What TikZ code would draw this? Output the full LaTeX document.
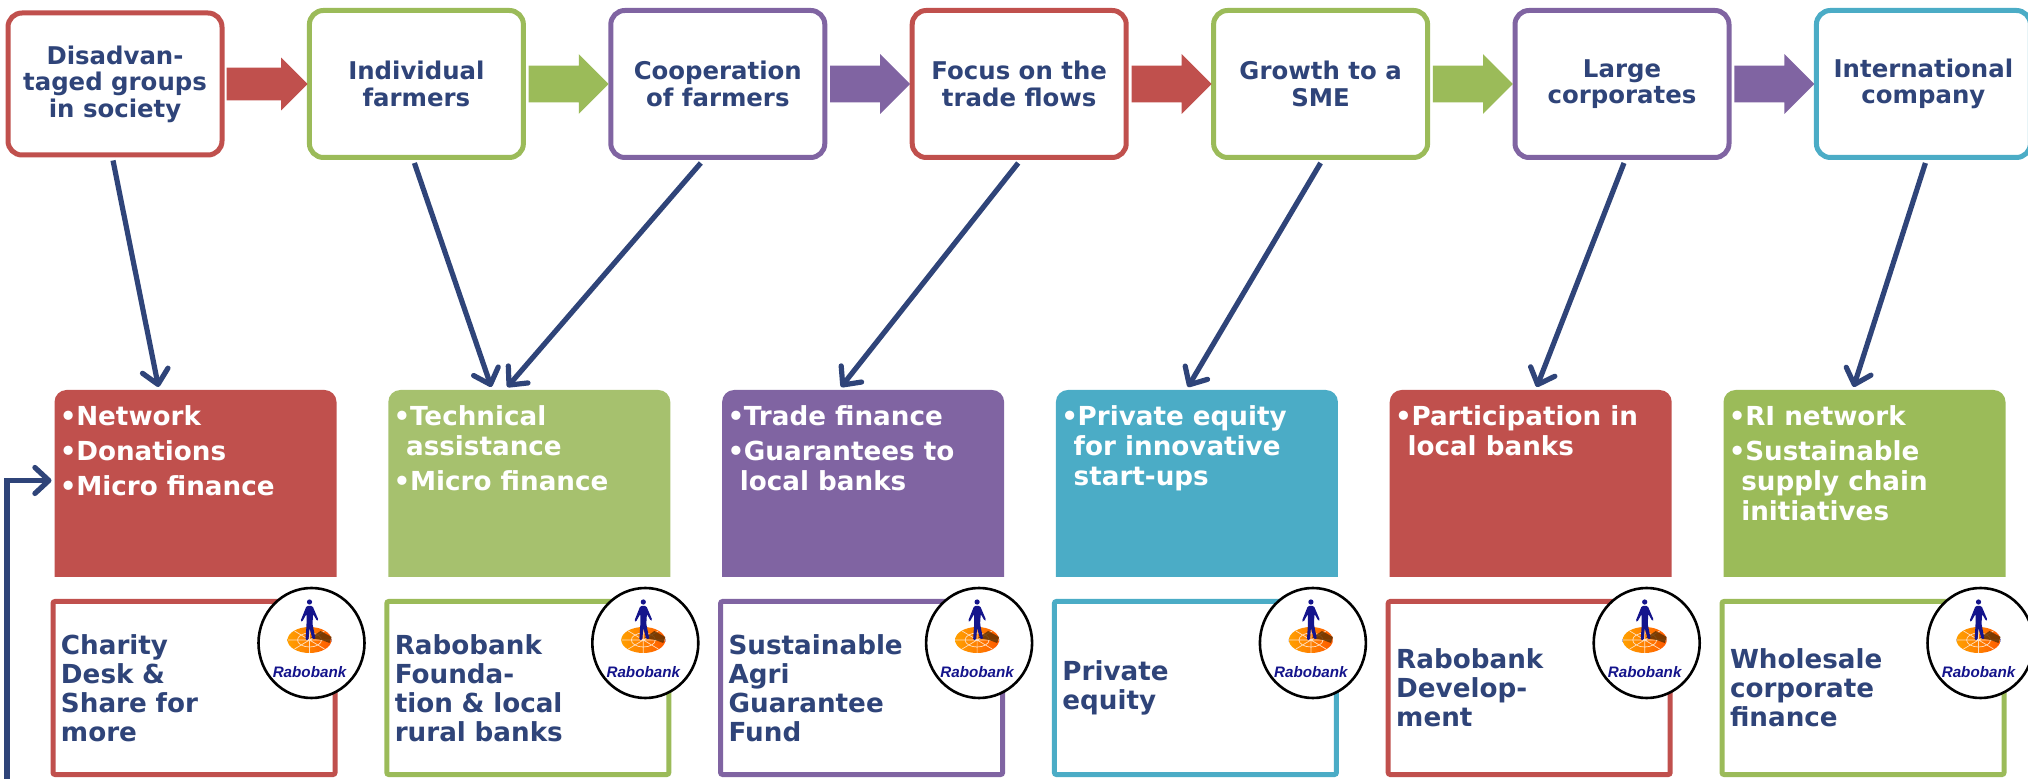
\documentclass[tikz,border=0pt]{standalone}
\usepackage{fontspec}
\setmainfont{DejaVu Sans}
\newfontfamily\logofont{Liberation Sans}
\usetikzlibrary{positioning,arrows.meta,shapes.arrows,shapes.geometric}

\definecolor{rabored}{HTML}{C0504D}
\definecolor{rabogreen}{HTML}{9BBB59}
\definecolor{rabolight}{HTML}{A6C16E}
\definecolor{rabopurple}{HTML}{8064A2}
\definecolor{raboteal}{HTML}{4BACC6}
\definecolor{rabonavy}{HTML}{2F4479}
\definecolor{logoblue}{HTML}{14148C}

\newcommand{\itm}{\makebox[8.2pt][l]{•}}
\newcommand{\cnt}{\hspace*{6.2pt}}

\tikzset{
    stagebox/.style={rectangle, draw=#1, line width=2.5pt, rounded corners=7pt, fill=white,
        minimum width=107pt, minimum height=73.5pt, inner sep=1pt, align=center, text=rabonavy,
        font=\bfseries\fontsize{12.2}{13.3}\selectfont},
    stagearrow/.style={single arrow, fill=#1, draw=none, inner xsep=0pt, inner ysep=9pt, outer sep=0pt,
        minimum height=40pt, single arrow head extend=5.75pt,
        single arrow tip angle=90, single arrow head indent=0pt},
    offerbox/.style={rectangle, minimum width=141pt, minimum height=93.5pt, inner sep=0pt, outer sep=0pt,
        path picture={\fill[#1] (path picture bounding box.south west) [rounded corners=6pt]
            -- (path picture bounding box.north west) -- (path picture bounding box.north east)
            [sharp corners] -- (path picture bounding box.south east) -- cycle;}},
    offertext/.style={inner sep=0pt, align=left, text=white,
        font=\bfseries\fontsize{13.1}{15}\selectfont},
    deskbox/.style={rectangle, draw=#1, line width=2.5pt, rounded corners=1pt, fill=white,
        minimum width=141pt, minimum height=86.5pt, text width=133pt, inner sep=4pt, align=left,
        text=rabonavy, font=\bfseries\fontsize{13.1}{14.5}\selectfont},
    logoring/.style={ellipse, draw=black, line width=1.3pt, fill=white, inner sep=0pt,
        minimum width=53pt, minimum height=55pt},
    conn/.style={draw=rabonavy, line width=2.6pt,
        -{Straight Barb[round, length=7pt, width=13pt, line width=2.6pt]}},
    rabologo/.pic={
        \fill[logoblue] (-24,-1) arc[start angle=180, end angle=360, x radius=22, y radius=14] -- (20,-4)
            -- (-24,-4) -- cycle;
        \shade[left color=orange!75!yellow, right color=orange!70!red, middle color=orange]
            (-2,-3) ellipse [x radius=22, y radius=13];
        \draw[white!75!orange, line width=.35pt] (-2,-3) ellipse [x radius=12, y radius=7]
            (-24,-3) -- (20,-3) (-2,-16) -- (-2,10) (-17,-12) -- (13,6) (13,-12) -- (-17,6);
        \fill[black!60!orange, opacity=.85] (-1,-5) -- (9,-12) -- (20,-6) -- (18,0) -- (10,-3) -- cycle;
        \fill[logoblue] (-2,-41) circle [radius=2.6];
        \fill[logoblue, rounded corners=.6pt] (-5,-37) -- (1,-37) -- (7,-23) -- (5.6,-22) -- (1.6,-29)
            -- (1,-19) -- (4,-4) -- (1,-4) -- (-2,-15) -- (-3,-3) -- (-6,-3) -- (-5,-18) -- (-5,-29)
            -- (-9.5,-21) -- (-11,-22) -- cycle;
        \node[inner sep=0pt, text=logoblue] at (-2,29)
            {\logofont\bfseries\itshape\fontsize{7.6}{9}\selectfont Rabobank};
    }
}

\begin{document}
\begin{tikzpicture}[x=0.5pt, y=-0.5pt]
    \useasboundingbox (0,0) rectangle (2028,779);

    % stages
    \node[stagebox=rabored, minimum height=71pt] (topa) at (115,84) {Disadvan-\\taged groups\\in society};
    \node[stagebox=rabogreen, right=41.2pt of topa] (topb) {Individual\\farmers};
    \node[stagebox=rabopurple, right=41.2pt of topb] (topc) {Cooperation\\of farmers};
    \node[stagebox=rabored, right=41.2pt of topc] (topd) {Focus on the\\trade flows};
    \node[stagebox=rabogreen, right=41.2pt of topd] (tope) {Growth to a\\SME};
    \node[stagebox=rabopurple, right=41.2pt of tope] (topf) {Large\\corporates};
    \node[stagebox=raboteal, right=41.2pt of topf] (topg) {International\\company};

    \node[stagearrow=rabored, right=1pt of topa, minimum height=40.5pt, inner ysep=8pt, single arrow head extend=5pt] (stepa) {};
    \node[stagearrow=rabogreen, right=1.4pt of topb] (stepb) {};
    \node[stagearrow=rabopurple, right=1.4pt of topc] (stepc) {};
    \node[stagearrow=rabored, right=1.4pt of topd] (stepd) {};
    \node[stagearrow=rabogreen, right=1.4pt of tope] (stepe) {};
    \node[stagearrow=rabopurple, right=1.4pt of topf] (stepf) {};

    % offers
    \node[offerbox=rabored] (infa) at (195.5,483.5) {};
    \node[offerbox=rabolight, right=25.9pt of infa] (infb) {};
    \node[offerbox=rabopurple, right=25.9pt of infb] (infc) {};
    \node[offerbox=raboteal, right=25.9pt of infc] (infd) {};
    \node[offerbox=rabored, right=25.9pt of infd] (infe) {};
    \node[offerbox=rabogreen, right=25.9pt of infe] (inff) {};

    \node[offertext, anchor=north west] (txta) at ([shift={(5,15)}]infa.north west) {\itm Network\\[2.5pt]\itm Donations\\[2.5pt]\itm Micro finance};
    \node[offertext, anchor=north west] (txtb) at ([shift={(5,15)}]infb.north west) {\itm Technical\\\cnt assistance\\[2.5pt]\itm Micro finance};
    \node[offertext, anchor=north west] (txtc) at ([shift={(5,15)}]infc.north west) {\itm Trade finance\\[2.5pt]\itm Guarantees to\\\cnt local banks};
    \node[offertext, anchor=north west] (txtd) at ([shift={(5,15)}]infd.north west) {\itm Private equity\\\cnt for innovative\\\cnt start-ups};
    \node[offertext, anchor=north west] (txte) at ([shift={(5,15)}]infe.north west) {\itm Participation in\\\cnt local banks};
    \node[offertext, anchor=north west] (txtf) at ([shift={(5,15)}]inff.north west) {\itm RI network\\[2.5pt]\itm Sustainable\\\cnt supply chain\\\cnt initiatives};

    % desks
    \node[deskbox=rabored, below=11pt of infa, xshift=-.75pt] (deska) {Charity\\Desk \&\\Share for\\more};
    \node[deskbox=rabogreen, below=11pt of infb, xshift=-.75pt] (deskb) {Rabobank\\Founda-\\tion \& local\\rural banks};
    \node[deskbox=rabopurple, below=11pt of infc, xshift=-.75pt] (deskc) {Sustainable\\Agri\\Guarantee\\Fund};
    \node[deskbox=raboteal, below=11pt of infd, xshift=-.75pt] (deskd) {Private\\equity};
    \node[deskbox=rabored, below=11pt of infe, xshift=-.75pt] (deske) {Rabobank\\Develop-\\ment};
    \node[deskbox=rabogreen, below=11pt of inff, xshift=-.75pt] (deskf) {Wholesale\\corporate\\finance};

    % logos
    \foreach \n in {a,b,c,d,e,f} {
        \node[logoring] (ring\n) at ([shift={(-26,44)}]desk\n.north east) {};
        \pic at (ring\n) {rabologo};
    }

    % connectors
    \coordinate (loopstart) at (7,779);
    \draw[conn] ([shift={(-2,3)}]topa.south) -- ([shift={(-37,-3)}]infa.north);
    \draw[conn] ([shift={(-2,3)}]topb.south) -- ([shift={(-38,-3)}]infb.north);
    \draw[conn] ([shift={(-17,3)}]topc.south) -- ([shift={(-22,-3)}]infb.north);
    \draw[conn] ([shift={(-1,3)}]topd.south) -- ([shift={(-22,-3)}]infc.north);
    \draw[conn] ([shift={(0,3)}]tope.south) -- ([shift={(-9,-3)}]infd.north);
    \draw[conn] ([shift={(2,3)}]topf.south) -- ([shift={(6,-3)}]infe.north);
    \draw[conn] ([shift={(2,3)}]topg.south) -- ([shift={(-11,-3)}]inff.north);
    \draw[conn] (loopstart) |- ([shift={(-3,-3)}]infa.west);
\end{tikzpicture}
\end{document}
